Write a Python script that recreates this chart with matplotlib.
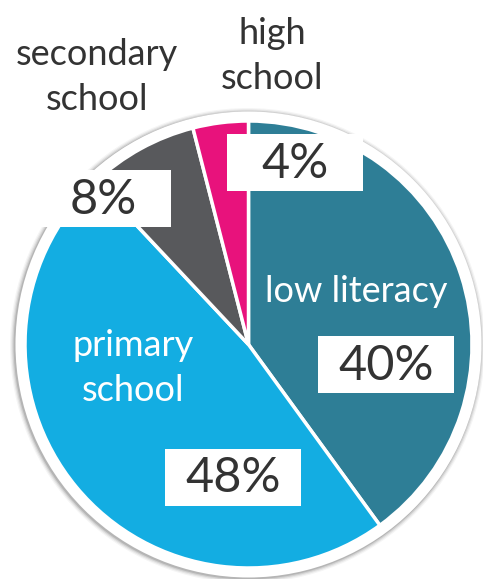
import matplotlib.pyplot as plt
from matplotlib.patches import Circle, Rectangle

# Data
categories = ["low literacy", "primary school", "secondary school", "high school"]
shares = [40, 48, 8, 4]
colors = ["#2e7e96", "#13ade2", "#58595c", "#e8127c"]

# Layout (pixel coords, y from top)
W, H = 483, 579
cx, cy, r = 248.5, 344.5, 223.5
name_pos = [(356, 291), (133, 368), (97, 77), (272, 56)]
name_color = ["white", "white", "#333333", "#333333"]
box_pos = [(386, 364.5), (233, 477.5), (103, 198.5), (295, 162.5)]
box_w, box_h = 136, 57

FONT = ["Lato", "DejaVu Sans"]


def fy(y):
    return H - y


fig = plt.figure(figsize=(W / 100, H / 100), dpi=100)
ax = fig.add_axes([0, 0, 1, 1])

# soft shadow + white rim
for i, a in enumerate([0.04, 0.06, 0.09, 0.13]):
    ax.add_patch(Circle((cx - 1, fy(cy) - 1), r + 14 - i * 1.2, color="black",
                        alpha=a, lw=0, zorder=0))
ax.add_patch(Circle((cx, fy(cy)), r + 9.5, color="white", lw=0, zorder=1))

wedges, _ = ax.pie(shares, colors=colors, startangle=90, counterclock=False,
                   center=(cx, fy(cy)), radius=r,
                   wedgeprops=dict(edgecolor="white", linewidth=2.5))
for w in wedges:
    w.set_zorder(2)

for name, (x, y), c in zip(categories, name_pos, name_color):
    ax.text(x, fy(y), name.replace(" school", "\nschool"), ha="center", va="center",
            color=c, fontsize=26, family=FONT, linespacing=1.45, zorder=5)

for v, (x, y) in zip(shares, box_pos):
    ax.add_patch(Rectangle((x - box_w / 2, fy(y) - box_h / 2), box_w, box_h,
                           color="white", lw=0, zorder=4))
    ax.text(x, fy(y) - 1, f"{v}%", ha="center", va="center", color="#333333",
            fontsize=35, family=FONT, zorder=5)

ax.set_xlim(0, W)
ax.set_ylim(0, H)
ax.set_aspect("equal")
ax.axis("off")

fig.savefig("out.png", dpi=100)
